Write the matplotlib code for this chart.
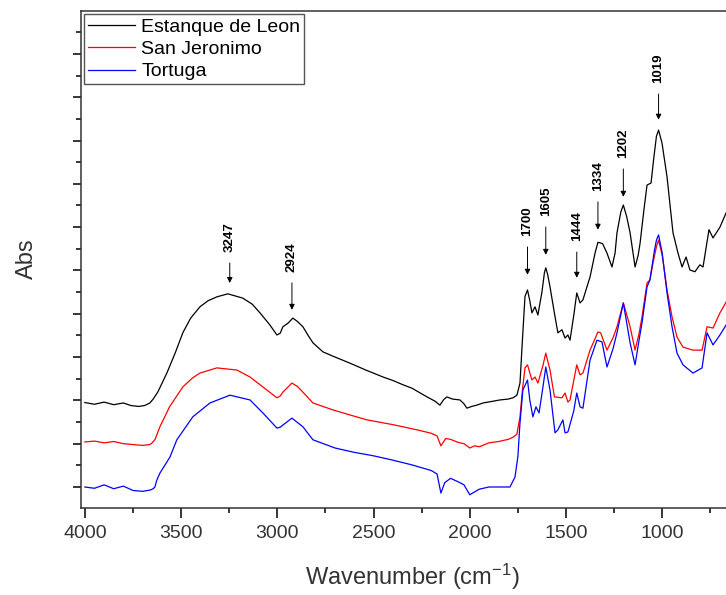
import matplotlib
matplotlib.use("Agg")
import matplotlib.pyplot as plt
from matplotlib.ticker import MultipleLocator, NullFormatter

plt.rcParams['font.family'] = ['Liberation Sans', 'DejaVu Sans']
plt.rcParams['mathtext.default'] = 'regular'

# Estanque de Leon (black)
wn_leon = [4000, 3950, 3900, 3850, 3800, 3760, 3720, 3690, 3662, 3645, 3620, 3574, 3530, 3491, 3450,
           3402, 3360, 3314, 3257, 3179, 3130, 3090, 3040, 3002, 2985, 2971, 2945, 2919, 2895, 2867,
           2840, 2815, 2763, 2700, 2623, 2540, 2451, 2400, 2347, 2300, 2222, 2180, 2155, 2135,
           2119, 2090, 2051, 2030, 2015, 1990, 1963, 1931, 1880, 1843, 1800, 1775, 1755, 1739, 1725,
           1713, 1700, 1688, 1677, 1661, 1646, 1625, 1612, 1605, 1595, 1583, 1557, 1542, 1521, 1505,
           1490, 1479, 1460, 1444, 1427, 1412, 1375, 1349, 1334, 1310, 1287, 1261, 1245, 1235, 1215,
           1202, 1185, 1167, 1141, 1125, 1115, 1095, 1079, 1058, 1045, 1030, 1019, 1001, 975, 944,
           918, 897, 876, 856, 830, 804, 788, 757, 736, 700, 668, 650]
abs_leon = [1.95, 1.91, 1.96, 1.90, 1.94, 1.88, 1.86, 1.88, 1.94, 2.03, 2.20, 2.63, 3.10, 3.56, 3.90,
            4.16, 4.30, 4.39, 4.46, 4.36, 4.22, 4.02, 3.75, 3.51, 3.55, 3.70, 3.78, 3.90, 3.82, 3.70,
            3.50, 3.33, 3.12, 3.00, 2.86, 2.70, 2.54, 2.46, 2.36, 2.28, 2.08, 1.98, 1.89, 2.02,
            2.08, 2.03, 2.01, 1.92, 1.82, 1.86, 1.89, 1.94, 1.98, 2.01, 2.03, 2.06, 2.12, 2.40, 3.50,
            4.40, 4.55, 4.30, 4.02, 4.16, 3.97, 4.50, 4.95, 5.06, 4.90, 4.62, 3.93, 3.56, 3.63, 3.44,
            3.51, 3.39, 3.95, 4.48, 4.25, 4.32, 4.85, 5.40, 5.65, 5.62, 5.40, 5.08, 5.40, 5.87, 6.35,
            6.51, 6.25, 5.87, 5.08, 5.35, 5.63, 6.40, 6.97, 7.02, 7.55, 8.10, 8.24, 7.94, 7.16, 5.87,
            5.40, 5.08, 5.31, 5.01, 4.97, 5.13, 5.08, 5.94, 5.75, 6.00, 6.33, 6.45]

# San Jeronimo (red)
wn_sj = [4000, 3950, 3900, 3850, 3800, 3750, 3700, 3662, 3650, 3635, 3610, 3560, 3491, 3440, 3402,
         3314, 3210, 3142, 3075, 3002, 2985, 2971, 2924, 2895, 2867, 2815, 2711, 2620, 2534, 2400,
         2274, 2200, 2170, 2150, 2125, 2100, 2060, 2030, 2000, 1975, 1950, 1900, 1850, 1800,
         1775, 1755, 1739, 1725, 1713, 1700, 1677, 1661, 1646, 1620, 1605, 1583, 1560, 1521, 1505,
         1490, 1479, 1460, 1444, 1427, 1412, 1375, 1334, 1320, 1287, 1255, 1235, 1202, 1167, 1141,
         1120, 1105, 1079, 1064, 1048, 1030, 1019, 1000, 975, 949, 923, 892, 840, 793, 767, 736,
         700, 668, 650]
abs_sj = [1.04, 1.06, 1.02, 1.05, 1.00, 0.98, 0.96, 0.98, 1.02, 1.10, 1.39, 1.85, 2.31, 2.52, 2.63,
          2.75, 2.70, 2.54, 2.31, 2.06, 2.10, 2.19, 2.40, 2.32, 2.19, 1.94, 1.78, 1.66, 1.55, 1.44,
          1.32, 1.24, 1.18, 0.95, 1.12, 1.10, 1.03, 1.00, 0.90, 0.95, 0.93, 1.02, 1.05, 1.10,
          1.15, 1.22, 1.62, 2.30, 2.75, 2.82, 2.47, 2.54, 2.40, 2.80, 3.09, 2.70, 2.08, 2.06, 2.17,
          1.96, 2.01, 2.45, 2.82, 2.59, 2.63, 3.16, 3.58, 3.56, 3.16, 3.45, 3.70, 4.25, 3.70, 3.16,
          3.55, 3.93, 4.71, 4.78, 5.17, 5.55, 5.70, 5.35, 4.55, 3.93, 3.46, 3.23, 3.16, 3.16, 3.70,
          3.67, 4.02, 4.27, 4.40]

# Tortuga (blue)
wn_tor = [4000, 3950, 3900, 3850, 3800, 3750, 3700, 3660, 3645, 3636, 3626, 3610, 3558, 3522, 3439,
          3350, 3246, 3142, 3075, 3002, 2985, 2971, 2924, 2867, 2815, 2700, 2600, 2500, 2400, 2300,
          2200, 2170, 2150, 2130, 2100, 2060, 2030, 2000, 1970, 1950, 1900, 1850, 1791, 1765,
          1750, 1739, 1724, 1700, 1688, 1672, 1656, 1640, 1620, 1605, 1583, 1557, 1542, 1516, 1505,
          1490, 1460, 1444, 1427, 1412, 1375, 1339, 1313, 1287, 1255, 1235, 1202, 1167, 1141, 1120,
          1105, 1079, 1064, 1040, 1030, 1019, 1000, 975, 949, 923, 892, 840, 793, 767, 736, 700,
          668, 650]
abs_tor = [0.00, -0.03, 0.05, -0.04, 0.02, -0.08, -0.10, -0.07, -0.04, 0.00, 0.16, 0.32, 0.69, 1.09, 1.62,
           1.94, 2.12, 2.01, 1.71, 1.36, 1.38, 1.43, 1.59, 1.39, 1.09, 0.90, 0.80, 0.72, 0.62, 0.51,
           0.38, 0.30, -0.14, 0.10, 0.20, 0.12, 0.05, -0.18, -0.10, -0.05, 0.00, 0.00, 0.00, 0.23,
           0.70, 1.48, 2.24, 2.47, 2.01, 1.62, 1.85, 1.71, 2.30, 2.77, 2.24, 1.25, 1.32, 1.55, 1.25,
           1.27, 1.75, 2.17, 1.85, 1.82, 2.93, 3.39, 3.35, 2.77, 3.20, 3.56, 4.25, 3.33, 2.82, 3.40,
           3.79, 4.62, 4.78, 5.47, 5.70, 5.82, 5.40, 4.48, 3.70, 3.09, 2.82, 2.63, 2.75, 3.56, 3.28,
           3.51, 3.74, 3.85]

# peak labels
peaks = [3247, 2924, 1700, 1605, 1444, 1334, 1202, 1019]
arrow_tip = [4.71, 4.09, 4.90, 5.36, 4.83, 5.94, 6.70, 8.48]
label_base = [5.43, 4.97, 5.80, 6.26, 5.68, 6.84, 7.60, 9.33]

fig = plt.figure(figsize=(7.26, 5.95), dpi=100)
# axes runs on past the right edge of the picture, as in the reference
ax = fig.add_axes([81 / 726, 87 / 595, 658.2 / 726, 497 / 595])

ax.plot(wn_leon, abs_leon, color='black', lw=0.9, label='Estanque de Leon')
ax.plot(wn_sj, abs_sj, color='red', lw=0.9, label='San Jeronimo')
ax.plot(wn_tor, abs_tor, color='blue', lw=0.9, label='Tortuga')

for p, tip, base in zip(peaks, arrow_tip, label_base):
    ax.annotate(str(p), xy=(p, tip), xytext=(p, base), rotation=90,
                ha='center', va='bottom', fontsize=9.5, fontweight='bold',
                arrowprops=dict(arrowstyle='-|>', color='black', lw=0.7,
                                mutation_scale=8, shrinkA=6, shrinkB=0))

ax.set_xlim(4020, 600)
ax.set_ylim(-0.485, 10.99)
ax.xaxis.set_major_locator(MultipleLocator(500))
ax.xaxis.set_minor_locator(MultipleLocator(250))
ax.yaxis.set_major_locator(MultipleLocator(1))
ax.yaxis.set_minor_locator(MultipleLocator(0.5))
ax.yaxis.set_major_formatter(NullFormatter())
ax.tick_params(which='major', direction='out', length=7, width=1.1,
               labelsize=14, labelcolor='#333333', pad=5)
ax.tick_params(which='minor', direction='out', length=3.5, width=1.1)
ax.tick_params(axis='y', which='major', length=6)
for s in ['left', 'bottom', 'top']:
    ax.spines[s].set_linewidth(1.1)
    ax.spines[s].set_color('#333333')
ax.spines['right'].set_visible(False)

fig.text(412 / 726, 18 / 595, 'Wavenumber (cm$^{-1}$)', fontsize=17,
         ha='center', va='center', color='#333333')
fig.text(27 / 726, 1 - 259 / 595, 'Abs', fontsize=17, rotation=90,
         ha='center', va='center', color='#333333')

leg = ax.legend(loc='upper left', bbox_to_anchor=(84 / 726, 1 - 14 / 595),
                bbox_transform=fig.transFigure, fontsize=14, frameon=True,
                fancybox=False, edgecolor='#555555', framealpha=1,
                borderaxespad=0, borderpad=0.2, handlelength=2.4,
                handletextpad=0.35, labelspacing=0.25)
leg.get_frame().set_linewidth(1.0)

fig.savefig('out.png', dpi=100)
